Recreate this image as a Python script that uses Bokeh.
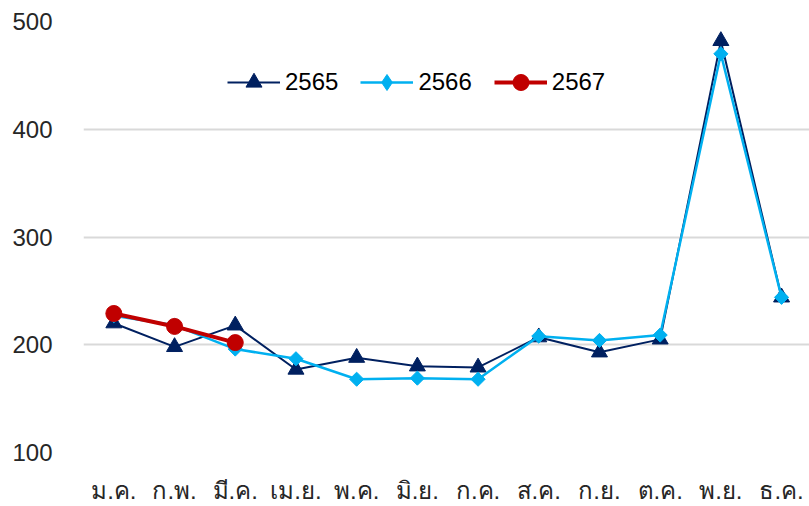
from bokeh.plotting import figure
from bokeh.models import Range1d, FixedTicker, Legend, LegendItem
from bokeh.embed import file_html
from bokeh.resources import INLINE
import math

months = ["ม.ค.", "ก.พ.", "มี.ค.", "เม.ย.", "พ.ค.", "มิ.ย.", "ก.ค.", "ส.ค.", "ก.ย.", "ต.ค.", "พ.ย.", "ธ.ค."]
y2565 = [220, 198, 218, 177, 188, 180, 179, 207, 193, 205, 482, 244]
y2566 = [227, 218, 196, 187, 168, 169, 168, 208, 204, 209, 470, 244]
y2567 = [229, 217, 202]
yticks = [100, 200, 300, 400, 500]

xs = list(range(len(months)))

FONT = "Liberation Sans"

p = figure(width=809, height=506, output_backend="svg", toolbar_location=None,
           x_range=Range1d(-0.5, 11.46), y_range=Range1d(100, 500),
           min_border_left=83, min_border_right=0, min_border_top=21, min_border_bottom=54)
p.outline_line_color = None
p.background_fill_color = "white"
p.border_fill_color = "white"

p.xgrid.grid_line_color = None
p.ygrid.grid_line_color = "#d9d9d9"
p.ygrid.grid_line_width = 2
p.yaxis.ticker = FixedTicker(ticks=yticks)
p.xaxis.ticker = FixedTicker(ticks=xs)
p.xaxis.major_label_overrides = {i: m for i, m in enumerate(months)}

for ax in (p.xaxis, p.yaxis):
    ax.axis_line_color = None
    ax.major_tick_line_color = None
    ax.minor_tick_line_color = None
    ax.major_tick_out = 0
    ax.major_tick_in = 0
    ax.major_label_text_font = FONT
    ax.major_label_text_font_size = "24px"
    ax.major_label_text_color = "#262626"
p.yaxis.major_label_standoff = 31
p.xaxis.major_label_standoff = 24

c1, c2, c3 = "#002060", "#00b0f0", "#c00000"
l1 = p.line(xs, y2565, line_color=c1, line_width=2)
s1 = p.scatter(xs, y2565, marker="triangle", size=16, fill_color=c1, line_color=c1)
l2 = p.line(xs, y2566, line_color=c2, line_width=2.5)
d2 = p.scatter(xs, y2566, marker="diamond", size=12, fill_color=c2, line_color=c2)
s2 = p.scatter(xs, y2566, marker="square", angle=math.pi / 4, size=10, fill_color=c2, line_color=c2)
l3 = p.line(xs[:len(y2567)], y2567, line_color=c3, line_width=4)
s3 = p.scatter(xs[:len(y2567)], y2567, marker="circle", size=16, fill_color=c3, line_color=c3)

legend = Legend(items=[LegendItem(label="2565", renderers=[l1, s1]),
                       LegendItem(label="2566", renderers=[l2, d2]),
                       LegendItem(label="2567", renderers=[l3, s3])],
                orientation="horizontal", location=(144, 350),
                glyph_width=53, glyph_height=40, label_height=40,
                label_standoff=5, spacing=22, padding=0, margin=0,
                border_line_color=None, background_fill_alpha=0,
                label_text_font=FONT, label_text_font_size="24px", label_text_color="black")
p.add_layout(legend, "center")

open("out.html", "w").write(file_html(p, INLINE))
